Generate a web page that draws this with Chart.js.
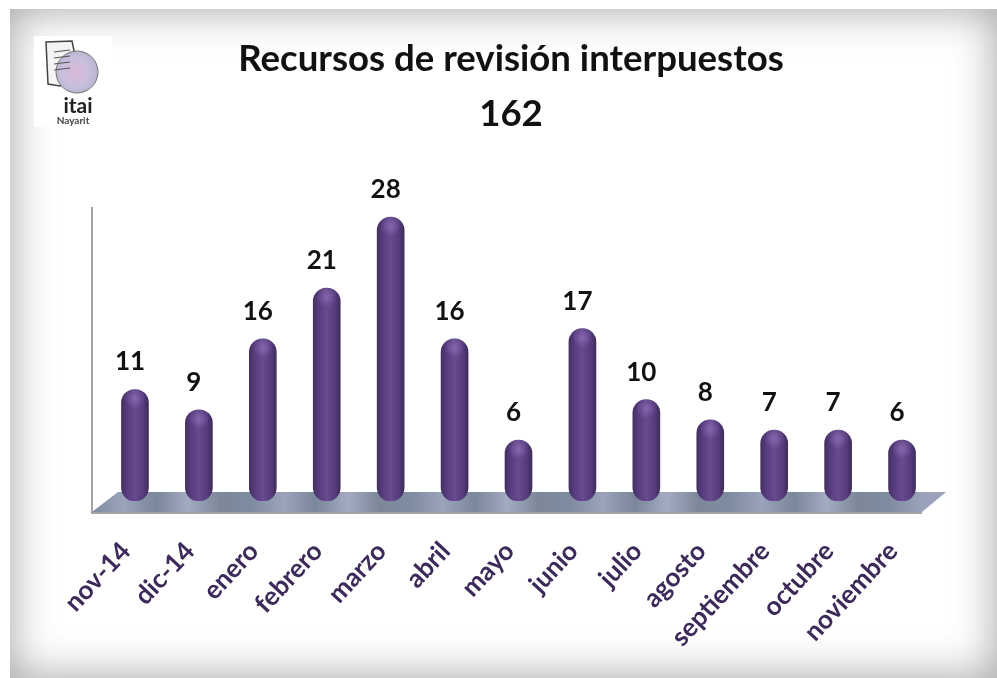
<!DOCTYPE html>
<html><head><meta charset="utf-8">
<script src="https://cdn.jsdelivr.net/npm/chart.js@4"></script>
<style>
html,body{margin:0;padding:0;background:#fff;width:997px;height:678px;overflow:hidden}
#frame{position:absolute;left:10px;top:9px;width:987px;height:669px;background:#fff;box-shadow:inset 0 0 42px 2px rgba(110,110,110,.6)}
#wrap{position:absolute;left:0;top:0;width:997px;height:678px}
</style></head><body>
<div id="frame"></div>
<div id="wrap"><canvas id="c" width="997" height="678"></canvas></div>
<script>
const categories=["nov-14","dic-14","enero","febrero","marzo","abril","mayo","junio","julio","agosto","septiembre","octubre","noviembre"];
const values=[11,9,16,21,28,16,6,17,10,8,7,7,6];
const titleLines=["Recursos de revisión interpuestos","162"];
const FONT="Lato, Carlito, sans-serif";
const PURPLE_TEXT="#3e2a5a";

const decor={
  id:'decor',
  beforeDatasetsDraw(chart){
    const {ctx,scales:{y}}=chart;
    const y0=y.getPixelForValue(0);
    const L=92,R=922,B=y0+11,T=y0-9,S=26;
    ctx.save();
    const g=ctx.createLinearGradient(L,0,R,0);
    const stops=["#7f8ba0","#9aa3bb","#7a8699","#a3abc2","#7c8899"];
    for(let i=0;i<=26;i++){g.addColorStop(i/26,stops[i%5]);}
    ctx.fillStyle=g;
    ctx.beginPath();ctx.moveTo(L,B);ctx.lineTo(L+S,T);ctx.lineTo(R+S-2,T);ctx.lineTo(R,B);ctx.closePath();ctx.fill();
    ctx.strokeStyle="#a3a3a3";ctx.lineWidth=2;
    ctx.beginPath();ctx.moveTo(L,207);ctx.lineTo(L,B+1);ctx.lineTo(R,B+1);ctx.stroke();
    ctx.restore();
  },
  afterDatasetsDraw(chart){
    const {ctx}=chart;
    const meta=chart.getDatasetMeta(0);
    ctx.save();
    meta.data.forEach((el,i)=>{
      const rg=ctx.createRadialGradient(el.x,el.y+9,1,el.x,el.y+9,10);
      rg.addColorStop(0,"rgba(150,115,190,.6)");
      rg.addColorStop(1,"rgba(150,115,190,0)");
      ctx.fillStyle=rg;
      ctx.beginPath();ctx.arc(el.x,el.y+9,10,0,Math.PI*2);ctx.fill();
      ctx.fillStyle="#111";
      ctx.font="bold 26px "+FONT;
      ctx.textAlign="center";ctx.textBaseline="alphabetic";
      ctx.fillText(String(values[i]),el.x-5,el.y-19);
    });
    ctx.restore();
    ctx.save();
    ctx.fillStyle="#fff";ctx.fillRect(34,36,78,91);
    ctx.strokeStyle="#444";ctx.lineWidth=1.5;
    ctx.fillStyle="#f4f4f4";
    ctx.beginPath();ctx.moveTo(46,42);ctx.lineTo(72,41);ctx.lineTo(76,60);ctx.lineTo(60,86);ctx.lineTo(48,84);ctx.closePath();ctx.fill();ctx.stroke();
    const lg=ctx.createRadialGradient(76,72,2,76,72,22);
    lg.addColorStop(0,"#d8b8d8");lg.addColorStop(.6,"#c9bfdc");lg.addColorStop(1,"#b8b4cf");
    ctx.fillStyle=lg;ctx.beginPath();ctx.arc(77,72,21,0,Math.PI*2);ctx.fill();
    ctx.strokeStyle="#777";ctx.lineWidth=1;ctx.stroke();
    ctx.strokeStyle="#555";ctx.lineWidth=1.2;
    [52,58,64,70].forEach(v=>{ctx.beginPath();ctx.moveTo(54,v);ctx.lineTo(70,v-2);ctx.stroke();});
    ctx.fillStyle="#222";ctx.textAlign="center";ctx.textBaseline="alphabetic";
    ctx.font="bold 21px "+FONT;ctx.fillText("itai",78,113);
    ctx.font="bold 10px "+FONT;ctx.fillStyle="#444";ctx.fillText("Nayarit",73,124);
    ctx.restore();
  }
};

new Chart(document.getElementById('c'),{
  type:'bar',
  data:{labels:categories,datasets:[{
    data:values,
    barThickness:27,
    borderRadius:14,
    borderSkipped:false,
    backgroundColor(ctx){
      const c=ctx.chart;
      if(!c.chartArea) return "#59407f";
      const x=c.scales.x.getPixelForValue(ctx.dataIndex);
      const g=c.ctx.createLinearGradient(x-13.5,0,x+13.5,0);
      g.addColorStop(0,"#44305f");g.addColorStop(.18,"#553b7c");g.addColorStop(.5,"#664c8e");g.addColorStop(.82,"#553b7c");g.addColorStop(1,"#3f2c58");
      return g;
    }
  }]},
  plugins:[decor],
  options:{
    responsive:false,animation:false,
    layout:{padding:{left:88,right:63,top:0,bottom:0}},
    plugins:{
      legend:{display:false},tooltip:{enabled:false},
      title:{display:true,text:titleLines,color:"#111",align:'center',
        font:{family:FONT,size:36.6,weight:'bold',lineHeight:1.5},padding:{top:32,bottom:55}}
    },
    scales:{
      x:{offset:true,grid:{display:false},border:{display:false},
        afterFit(s){s.height=177;},
        ticks:{color:PURPLE_TEXT,font:{family:FONT,size:26,weight:'bold'},minRotation:47,maxRotation:47,padding:27,labelOffset:-9,autoSkip:false}},
      y:{min:0,max:30,display:true,grid:{display:false},border:{display:false},
        ticks:{display:false},afterFit(s){s.width=15;}}
    }
  }
});
</script>
</body></html>
